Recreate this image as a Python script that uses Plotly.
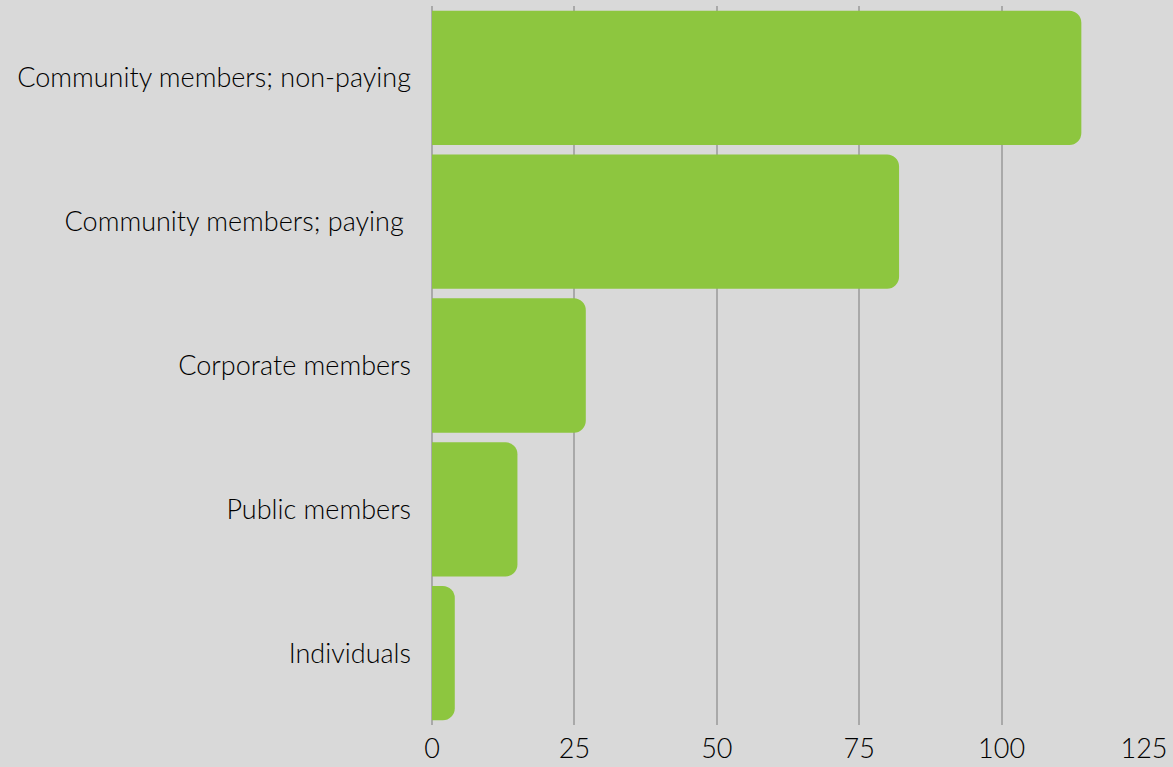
import plotly.graph_objects as go

categories = ["Community members; non-paying", "Community members; paying\u00a0",
              "Corporate members", "Public members", "Individuals"]
values = [114, 82, 27, 15, 4]
x_ticks = [0, 25, 50, 75, 100, 125]

fig = go.Figure(go.Bar(
    x=values, y=categories, orientation="h",
    marker=dict(color="#8dc63f", line=dict(width=0)),
    hoverinfo="x+y",
))

font = dict(family="Lato, sans-serif", size=27, color="#000000", weight=300)

fig.update_layout(
    width=1173, height=767,
    paper_bgcolor="#d9d9d9", plot_bgcolor="#d9d9d9",
    margin=dict(l=432, r=29, t=6, b=42, autoexpand=False),
    bargap=0.066,
    barcornerradius=12,
    showlegend=False,
    font=font,
    xaxis=dict(range=[0, 125], tickvals=x_ticks, showgrid=True,
               gridcolor="#a9a9a9", gridwidth=1.5, zeroline=True,
               zerolinecolor="#a9a9a9", zerolinewidth=1.5, automargin=False,
               ticks="", ticklabelstandoff=5, tickfont=font, fixedrange=True),
    yaxis=dict(autorange="reversed", showgrid=False, ticks="", automargin=False,
               ticklabelstandoff=20, tickfont=font, fixedrange=True),
)

fig.write_html("out.html", config={"displayModeBar": False},
               post_script="document.body.style.margin='0';document.body.style.background='#d9d9d9';")
